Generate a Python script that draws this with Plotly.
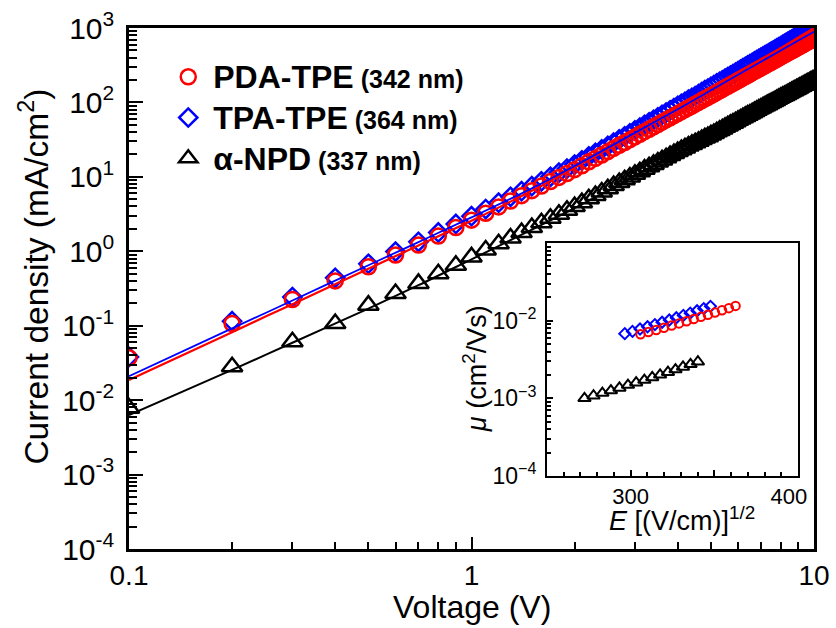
import plotly.graph_objects as go

# ---------------- main panel: J-V of hole-only devices ----------------
voltage = [0.1, 0.2, 0.3, 0.4, 0.5, 0.6, 0.7, 0.8, 0.9, 1.0,
           1.1, 1.2, 1.3, 1.4, 1.5, 1.6, 1.7, 1.8, 1.9, 2.0,
           2.1, 2.2, 2.3, 2.4, 2.5, 2.6, 2.7, 2.8, 2.9, 3.0,
           3.1, 3.2, 3.3, 3.4, 3.5, 3.6, 3.7, 3.8, 3.9, 4.0,
           4.1, 4.2, 4.3, 4.4, 4.5, 4.6, 4.7, 4.8, 4.9, 5.0,
           5.1, 5.2, 5.3, 5.4, 5.5, 5.6, 5.7, 5.8, 5.9, 6.0,
           6.1, 6.2, 6.3, 6.4, 6.5, 6.6, 6.7, 6.8, 6.9, 7.0,
           7.1, 7.2, 7.3, 7.4, 7.5, 7.6, 7.7, 7.8, 7.9, 8.0,
           8.1, 8.2, 8.3, 8.4, 8.5, 8.6, 8.7, 8.8, 8.9, 9.0,
           9.1, 9.2, 9.3, 9.4, 9.5, 9.6, 9.7, 9.8, 9.9, 10.0]

# current density, mA/cm^2
j_pda_tpe = [0.037, 0.107, 0.225, 0.40, 0.62, 0.89, 1.21, 1.60, 2.08, 2.62,
             3.25, 3.95, 4.73, 5.59, 6.52, 7.54, 8.65, 9.83, 11.1, 12.5,
             14.1, 15.9, 17.7, 19.7, 21.8, 24.1, 26.5, 29.0, 31.6, 34.4,
             37.4, 40.5, 43.7, 47.1, 50.6, 54.3, 58.2, 62.2, 66.4, 70.7,
             75.2, 79.9, 84.7, 89.7, 94.9, 100, 106, 112, 117, 124,
             130, 137, 143, 150, 158, 165, 173, 180, 188, 197,
             205, 214, 223, 232, 241, 251, 261, 271, 281, 291,
             302, 313, 324, 336, 347, 359, 371, 384, 397, 409,
             423, 436, 450, 464, 478, 492, 507, 522, 537, 553,
             569, 585, 601, 618, 635, 652, 669, 687, 705, 723]

j_tpa_tpe = [0.038, 0.115, 0.243, 0.44, 0.68, 0.99, 1.34, 1.79, 2.33, 2.96,
             3.69, 4.50, 5.40, 6.41, 7.50, 8.70, 10.0, 11.4, 12.9, 14.6,
             16.6, 18.8, 21.0, 23.4, 26.1, 28.9, 31.9, 35.1, 38.4, 42.0,
             45.8, 49.8, 54.0, 58.4, 63.0, 67.9, 73.0, 78.4, 84.0, 89.8,
             95.8, 102, 109, 115, 122, 129, 138, 146, 153, 162,
             171, 180, 189, 198, 209, 219, 230, 240, 251, 264,
             275, 288, 301, 314, 327, 341, 355, 370, 384, 399,
             415, 431, 447, 464, 481, 498, 516, 535, 555, 573,
             593, 613, 634, 655, 676, 698, 720, 743, 766, 791,
             815, 840, 865, 891, 917, 944, 971, 999, 1027, 1056]

j_npd = [0.0078, 0.028, 0.061, 0.107, 0.189, 0.27, 0.37, 0.50, 0.65, 0.84,
         1.04, 1.26, 1.51, 1.79, 2.09, 2.41, 2.77, 3.15, 3.55, 4.00,
         4.50, 5.07, 5.63, 6.26, 6.91, 7.64, 8.37, 9.16, 9.95, 10.8,
         11.7, 12.7, 13.7, 14.7, 15.8, 16.9, 18.1, 19.3, 20.6, 21.9,
         23.2, 24.5, 25.9, 27.3, 28.7, 30.1, 31.7, 33.4, 34.7, 36.6,
         38.3, 40.3, 42.1, 44.1, 46.4, 48.4, 50.7, 52.7, 55.0, 57.5,
         59.8, 62.4, 64.9, 67.5, 70.0, 72.8, 75.7, 78.5, 81.3, 84.1,
         87.2, 90.3, 93.3, 96.7, 99.8, 103, 106, 110, 114, 117,
         121, 124, 128, 132, 136, 140, 144, 148, 152, 156,
         161, 165, 170, 174, 179, 183, 188, 193, 198, 202]

# SCLC fit curves
fit_voltage = [0.1, 0.2, 0.3, 0.5, 0.7, 1.0, 1.5, 2.0, 3.0, 4.0, 5.0, 6.0, 7.0, 8.0, 9.0, 10.0]
fit_pda_tpe = [0.0186, 0.082, 0.195, 0.584, 1.20, 2.57, 6.5, 13.2, 38, 81, 148, 243, 370, 535, 745, 1000]
fit_tpa_tpe = [0.021, 0.092, 0.218, 0.65, 1.33, 2.85, 7.0, 14.0, 39, 81, 146, 236, 352, 500, 680, 893]
fit_npd = [0.0063, 0.0255, 0.059, 0.17, 0.35, 0.78, 1.95, 3.8, 10.2, 21, 36, 56, 82, 114, 154, 200]

# ---------------- inset: field-dependent mobility ----------------
sqrt_e_pda_tpe = [305.9, 310.6, 315.3, 319.9, 324.5, 328.9, 333.4, 337.7, 342.0, 346.2, 350.4, 354.6, 358.7, 362.7]
mu_pda_tpe = [0.00668, 0.00713, 0.00760, 0.00811, 0.00865, 0.00923, 0.00984,
              0.0105, 0.0112, 0.0119, 0.0127, 0.0136, 0.0145, 0.0155]
sqrt_e_tpa_tpe = [296.5, 301.1, 305.6, 310.1, 314.5, 318.8, 323.1, 327.3, 331.5, 335.6, 339.7, 343.7, 347.7]
mu_tpa_tpe = [0.00681, 0.00728, 0.00780, 0.00834, 0.00891, 0.00955, 0.0102,
              0.0109, 0.0117, 0.0125, 0.0134, 0.0143, 0.0153]
sqrt_e_npd = [272.4, 277.8, 283.1, 288.2, 293.3, 298.4, 303.3, 308.2, 312.9, 317.6,
              322.3, 326.8, 331.3, 335.8, 340.2]
mu_npd = [0.00100, 0.00108, 0.00117, 0.00126, 0.00136, 0.00148, 0.00159, 0.00172,
          0.00186, 0.00201, 0.00217, 0.00235, 0.00254, 0.00274, 0.00296]

# ---------------- labels and ticks ----------------
series_names = [
    "<span style='font-size:32px'><b>PDA-TPE</b></span><span style='font-size:25px'><b> (342 nm)</b></span>",
    "<span style='font-size:32px'><b>TPA-TPE</b></span><span style='font-size:25px'><b> (364 nm)</b></span>",
    "<span style='font-size:32px'><b>α-NPD</b></span><span style='font-size:25px'><b> (337 nm)</b></span>",
]
x_tickvals = [0.1, 1, 10]
x_ticktext = ["0.1", "1", "10"]
x_minor = [0.2, 0.3, 0.4, 0.5, 0.6, 0.7, 0.8, 0.9, 2, 3, 4, 5, 6, 7, 8, 9]
y_tickvals = [1e-4, 1e-3, 1e-2, 1e-1, 1e0, 1e1, 1e2, 1e3]
y_ticktext = ["10<sup>-4</sup>", "10<sup>-3</sup>", "10<sup>-2</sup>", "10<sup>-1</sup>",
              "10<sup>0</sup>", "10<sup>1</sup>", "10<sup>2</sup>", "10<sup>3</sup>"]
inset_x_tickvals = [300, 350, 400]
inset_x_ticktext = ["300", " ", "400\u00a0\u00a0\u00a0"]
inset_y_tickvals = [1e-4, 1e-3, 1e-2, 1e-1]
inset_y_ticktext = ["10<sup>−4</sup>", "10<sup>−3</sup>", "10<sup>−2</sup>", " "]

RED, BLUE, BLACK = "#ff0000", "#0000ff", "#000000"
FONT = "Arial, Liberation Sans, sans-serif"

fig = go.Figure()

# measured data (blue underneath red, as drawn)
fig.add_trace(go.Scatter(x=voltage, y=j_tpa_tpe, mode="markers", name=series_names[1], legendrank=2,
                         marker=dict(symbol="diamond-open", size=14, color=BLUE, line=dict(width=2.5, color=BLUE))))
fig.add_trace(go.Scatter(x=voltage, y=j_pda_tpe, mode="markers", name=series_names[0], legendrank=1,
                         marker=dict(symbol="circle-open", size=15, color=RED, line=dict(width=2.5, color=RED))))
fig.add_trace(go.Scatter(x=voltage, y=j_npd, mode="markers", name=series_names[2], legendrank=3,
                         marker=dict(symbol="triangle-up-open", size=18, color=BLACK, line=dict(width=2.5, color=BLACK))))

# fits
fig.add_trace(go.Scatter(x=fit_voltage, y=fit_npd, mode="lines", showlegend=False,
                         line=dict(color=BLACK, width=2, shape="spline")))
fig.add_trace(go.Scatter(x=fit_voltage, y=fit_pda_tpe, mode="lines", showlegend=False,
                         line=dict(color=RED, width=2.2, shape="spline")))
fig.add_trace(go.Scatter(x=fit_voltage, y=fit_tpa_tpe, mode="lines", showlegend=False,
                         line=dict(color=BLUE, width=1.8, shape="spline")))

# inset
fig.add_trace(go.Scatter(x=sqrt_e_tpa_tpe, y=mu_tpa_tpe, mode="markers", xaxis="x2", yaxis="y2", showlegend=False,
                         marker=dict(symbol="diamond-open", size=8.5, color=BLUE, line=dict(width=2, color=BLUE))))
fig.add_trace(go.Scatter(x=sqrt_e_pda_tpe, y=mu_pda_tpe, mode="markers", xaxis="x2", yaxis="y2", showlegend=False,
                         marker=dict(symbol="circle-open", size=8.5, color=RED, line=dict(width=2, color=RED))))
fig.add_trace(go.Scatter(x=sqrt_e_npd, y=mu_npd, mode="markers", xaxis="x2", yaxis="y2", showlegend=False,
                         marker=dict(symbol="triangle-up-open", size=11, color=BLACK, line=dict(width=2, color=BLACK))))

axis_common = dict(showline=True, linecolor="black", mirror=True, showgrid=False, zeroline=False,
                   ticks="inside", tickcolor="black", automargin=False)

fig.update_layout(
    width=836, height=628,
    margin=dict(l=129, r=22, t=28, b=79),
    plot_bgcolor="white", paper_bgcolor="white",
    font=dict(family=FONT, color="black"),
    xaxis=dict(type="log", range=[-1, 1], linewidth=2.5, ticklen=12, tickwidth=2,
               tickmode="array", tickvals=x_tickvals, ticktext=x_ticktext,
               tickfont=dict(size=28), ticklabelstandoff=0,
               minor=dict(ticks="inside", ticklen=7, tickwidth=2, tickcolor="black",
                          tickmode="array", tickvals=x_minor, showgrid=False),
               **axis_common),
    yaxis=dict(type="log", range=[-4, 3], linewidth=2.5, ticklen=14, tickwidth=2,
               tickmode="array", tickvals=y_tickvals, ticktext=y_ticktext,
               tickfont=dict(size=30), ticklabelstandoff=6,
               minor=dict(ticks="inside", ticklen=8, tickwidth=2, tickcolor="black",
                          dtick="D1", showgrid=False),
               **axis_common),
    xaxis2=dict(domain=[0.6102, 0.9766], anchor="y2", range=[250, 400], linewidth=2,
                ticklen=6, tickwidth=1.5, tickmode="array", tickvals=inset_x_tickvals,
                ticktext=inset_x_ticktext, tickfont=dict(size=22), ticklabelstandoff=0,
                minor=dict(ticks="inside", ticklen=4, tickwidth=1.5, tickcolor="black",
                           dtick=10, showgrid=False),
                **axis_common),
    yaxis2=dict(domain=[0.1401, 0.5873], anchor="x2", type="log", range=[-4, -1], linewidth=2,
                ticklen=6, tickwidth=1.5, tickmode="array", tickvals=inset_y_tickvals,
                ticktext=inset_y_ticktext, tickfont=dict(size=23), ticklabelstandoff=4,
                minor=dict(ticks="inside", ticklen=4, tickwidth=1.5, tickcolor="black",
                           dtick="D1", showgrid=False),
                **axis_common),
    legend=dict(x=0.05, y=0.955, xanchor="left", yanchor="top", bgcolor="rgba(0,0,0,0)",
                font=dict(size=29, family=FONT), itemwidth=40, tracegroupgap=0),
    annotations=[
        dict(text="Voltage (V)", xref="paper", yref="paper", x=0.5007, y=-0.111,
             xanchor="center", yanchor="middle", showarrow=False, font=dict(size=32)),
        dict(text="Current density (mA/cm<sup>2</sup>)", xref="paper", yref="paper", x=-0.140, y=0.523,
             xanchor="center", yanchor="middle", textangle=-90, showarrow=False, font=dict(size=33.5)),
        dict(text="<i>E</i> [(V/cm)]<sup>1/2</sup>", xref="paper", yref="paper", x=0.8073, y=0.057,
             xanchor="center", yanchor="middle", showarrow=False, font=dict(size=27)),
        dict(text="<i>μ</i> (cm<sup>2</sup>/Vs)", xref="paper", yref="paper", x=0.505, y=0.347,
             xanchor="center", yanchor="middle", textangle=-90, showarrow=False, font=dict(size=27)),
    ],
)

fig.write_html("out.html")
